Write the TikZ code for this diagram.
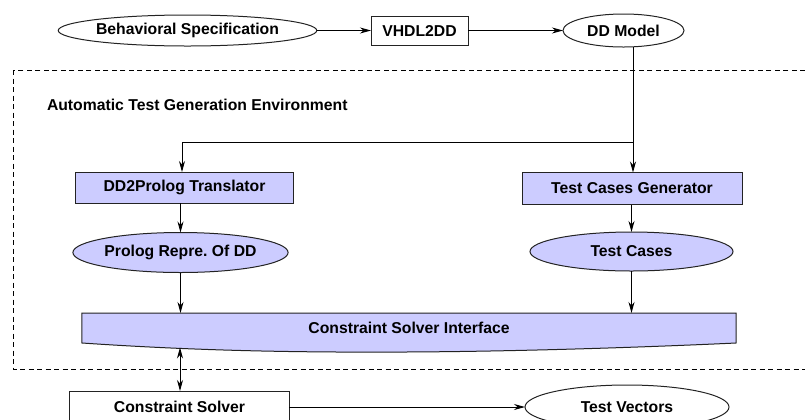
\documentclass[tikz,border=0pt]{standalone}
\usepackage{fontspec}
\setmainfont{Liberation Sans}
\usetikzlibrary{arrows.meta,shapes.geometric}
\definecolor{lav}{RGB}{204,204,255}
\definecolor{edge}{RGB}{35,35,35}

\begin{document}
\begin{tikzpicture}[x=1bp,y=-1bp,
  font=\fontsize{15.8}{19}\selectfont\bfseries\frenchspacing,
  every node/.style={inner sep=0pt, outer sep=0pt},
  box/.style={draw=edge, line width=1bp, rectangle},
  oval/.style={draw=edge, line width=1bp, ellipse},
  filled/.style={fill=lav},
  tip/.style={Stealth[length=11bp,width=6bp,inset=3.5bp]},
  arr/.style={-{Stealth[length=11bp,width=6bp,inset=3.5bp]}, line width=0.9bp},
  biarr/.style={{Stealth[length=11bp,width=6bp,inset=3.5bp]}-{Stealth[length=11bp,width=6bp,inset=3.5bp]}, line width=0.9bp},
  frame/.style={line width=0.9bp, dash pattern=on 5bp off 3.5bp}
]
\useasboundingbox (0,0) rectangle (805,419);
\clip (0,0) rectangle (805,419);

% top row
\node[oval, minimum width=205bp, minimum height=31bp] (bs) at (187.5,30.5) {Behavioral Specification};
\node[box, minimum width=97bp, minimum height=29bp] (vh) at (419.5,30.5) {VHDL2DD};
\node[oval, minimum width=121bp, minimum height=33bp] (dd) at (623.5,30.5) {DD Model};

% environment frame
\draw[frame] (13,70) rectangle (820,369);
\node[anchor=west] (env) at (47,105) {Automatic Test Generation Environment};

% junction below the model
\coordinate (j) at (633,142);
\coordinate (jl) at (182,142);

% generation blocks
\node[box, filled, minimum width=217bp, minimum height=31bp] (tr) at (184.5,187.5) {DD2Prolog Translator};
\node[box, filled, minimum width=220bp, minimum height=32bp] (tg) at (632,188.5) {Test Cases Generator};
\node[oval, filled, minimum width=205bp, minimum height=40bp] (pr) at (180.5,252.5) {Prolog Repre. Of DD};
\node[oval, filled, minimum width=203bp, minimum height=39bp] (tc) at (631.5,251.5) {Test Cases};

% solver interface (document shape with curved lower edge)
\node[minimum width=654bp, minimum height=30bp] (csi) at (409,328) {};
\fill[lav] (csi.north west) -- (csi.north east) -- (csi.south east)
  .. controls (650,347) and (520,351.5) .. (405,352)
  .. controls (300,352.5) and (200,351) .. (csi.south west) -- cycle;
\draw[edge, line width=1bp] (csi.north west) -- (csi.north east) -- (csi.south east)
  .. controls (650,347) and (520,351.5) .. (405,352)
  .. controls (300,352.5) and (200,351) .. (csi.south west) -- cycle;
\node at (csi.center) {Constraint Solver Interface};
\coordinate (csib) at (180,347.5);

% solver and result
\node[box, minimum width=219bp, minimum height=32bp] (cs) at (179.5,407) {Constraint Solver};
\node[oval, minimum width=204bp, minimum height=44bp] (tv) at (627,407) {Test Vectors};

% connectors
\draw[arr] (bs.east) -- (vh.west);
\draw[arr] (vh.east) -- (dd.west);
\draw[line width=0.9bp] (dd.south -| j) -- (j);
\draw[arr] (j) -- (j |- tg.north);
\draw[arr] (j) -- (jl) -- (jl |- tr.north);
\draw[arr] (pr.north |- tr.south) -- (pr.north);
\draw[arr] (tg.south -| tc.north) -- (tc.north);
\draw[arr] (pr.south) -- (pr.south |- csi.north);
\draw[arr] (tc.south) -- (tc.south |- csi.north);
\draw[biarr] (csib) -- (csib |- cs.north);
\draw[arr] (cs.east) -- (tv.west);
\end{tikzpicture}
\end{document}
